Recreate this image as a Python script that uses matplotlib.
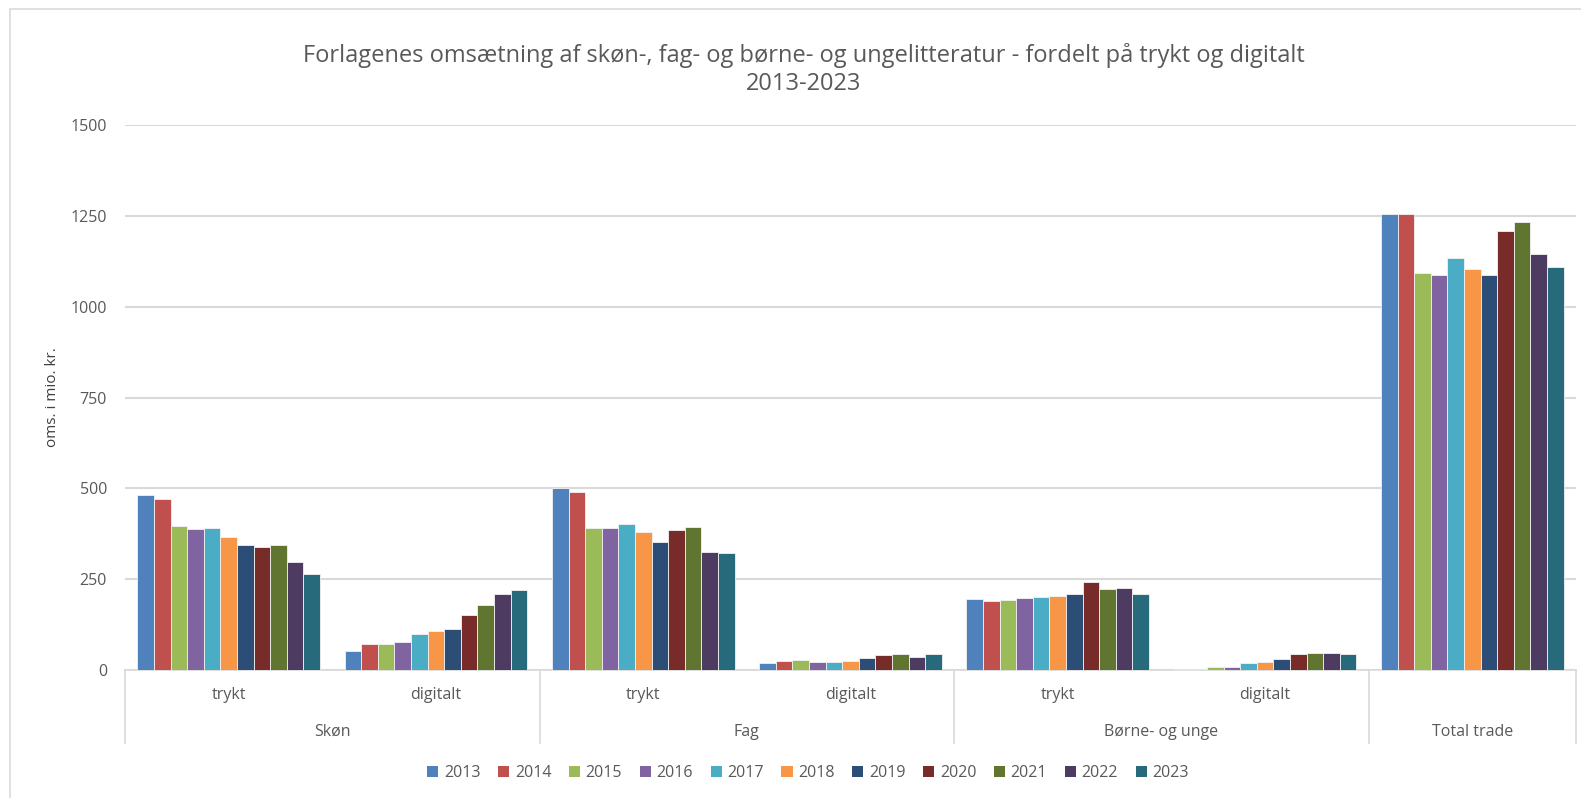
import matplotlib
matplotlib.use("Agg")
import matplotlib.pyplot as plt
import matplotlib.transforms as mtransforms
from matplotlib.patches import Rectangle, Patch
import numpy as np

plt.rcParams['font.family'] = ['Open Sans', 'DejaVu Sans']

years = ["2013", "2014", "2015", "2016", "2017", "2018", "2019", "2020", "2021", "2022", "2023"]
subcats = ["trykt", "digitalt", "trykt", "digitalt", "trykt", "digitalt", ""]
groups = ["Skøn", "Fag", "Børne- og unge", "Total trade"]
group_spans = [(0, 2), (2, 4), (4, 6), (6, 7)]

skon_trykt = [481, 470, 397, 387, 391, 365, 344, 339, 343, 298, 265]
skon_digitalt = [53, 71, 71, 77, 98, 108, 114, 152, 180, 208, 219]
fag_trykt = [502, 491, 390, 390, 403, 380, 352, 385, 393, 325, 322]
fag_digitalt = [19, 26, 27, 22, 21, 25, 34, 42, 45, 37, 44]
borne_trykt = [195, 191, 194, 198, 200, 203, 208, 242, 223, 225, 210]
borne_digitalt = [3, 3, 8, 8, 19, 21, 29, 44, 46, 47, 43]
total_trade = [1256, 1254, 1093, 1086, 1135, 1104, 1088, 1208, 1233, 1146, 1110]

colors = ["#4F81BD", "#C0504D", "#9BBB59", "#8064A2", "#4BACC6", "#F79646",
          "#2C4D75", "#772C2A", "#5F7530", "#4D3B62", "#276A7C"]

data = np.array([skon_trykt, skon_digitalt, fag_trykt, fag_digitalt,
                 borne_trykt, borne_digitalt, total_trade])  # categories x years

W, H = 1581, 798
fig = plt.figure(figsize=(W / 100, H / 100), dpi=100)
ax = fig.add_axes([125 / W, 1 - 670 / H, 1451 / W, 545 / H])

n = len(years)
group_w = 0.881
bw = group_w / n
x0 = np.arange(len(subcats)) + 0.5 - group_w / 2
for j in range(n):
    ax.bar(x0 + bw * (j + 0.5), data[:, j], width=bw, color=colors[j],
           edgecolor="#F2F2F2", linewidth=0.6, zorder=3)

ax.set_xlim(0, len(subcats))
ax.set_ylim(0, 1500)
ax.set_yticks([0, 250, 500, 750, 1000, 1250, 1500])
ax.set_yticklabels(["0", "250", "500", "750", "1000", "1250", "1500"])
ax.grid(axis="y", color="#D9D9D9", linewidth=1.5, zorder=0)
ax.set_axisbelow(True)
for s in ["top", "right", "left"]:
    ax.spines[s].set_visible(False)
ax.spines["bottom"].set_color("#D9D9D9")
ax.spines["bottom"].set_linewidth(1.2)
ax.tick_params(axis="y", length=0, labelsize=11.5, labelcolor="#595959", pad=13)
ax.tick_params(axis="x", length=0, labelbottom=False)

fig.text(52.7 / W, 1 - 397 / H, "oms. i mio. kr.", rotation=90, ha="center", va="center",
         fontsize=11, color="#404040")

trans = mtransforms.blended_transform_factory(ax.transData, fig.transFigure)
y_row1 = 1 - 695 / H
y_row2 = 1 - 732 / H
for i, s in enumerate(subcats):
    if s:
        ax.text(i + 0.5, y_row1, s, transform=trans, ha="center", va="center",
                fontsize=11.5, color="#595959")
for g, (a, b) in zip(groups, group_spans):
    ax.text((a + b) / 2, y_row2, g, transform=trans, ha="center", va="center",
            fontsize=11.5, color="#595959")
for xb in [0, 2, 4, 6, 7]:
    ax.plot([xb, xb], [1 - 670 / H, 1 - 743 / H], transform=trans, color="#D9D9D9",
            linewidth=1.2, clip_on=False)

fig.text(804 / W, 1 - 55 / H, "Forlagenes omsætning af skøn-, fag- og børne- og ungelitteratur - fordelt på trykt og digitalt",
         ha="center", va="center", fontsize=17, color="#595959")
fig.text(804 / W, 1 - 84 / H, "2013-2023", ha="center", va="center", fontsize=17, color="#595959")

handles = [Patch(facecolor=c, edgecolor="none") for c in colors]
fig.legend(handles, years, loc="center", bbox_to_anchor=(808 / W, 1 - 773 / H), ncol=n,
           frameon=False, fontsize=11.5, handlelength=0.7, handleheight=0.7,
           handletextpad=0.35, columnspacing=1.1, labelcolor="#595959")

fig.patches.append(Rectangle((10 / W, -0.05), 1.1, 1 - 9 / H + 0.05, transform=fig.transFigure,
                             fill=False, edgecolor="#DCDCD4", linewidth=1.2))

fig.savefig("out.png", dpi=100)
